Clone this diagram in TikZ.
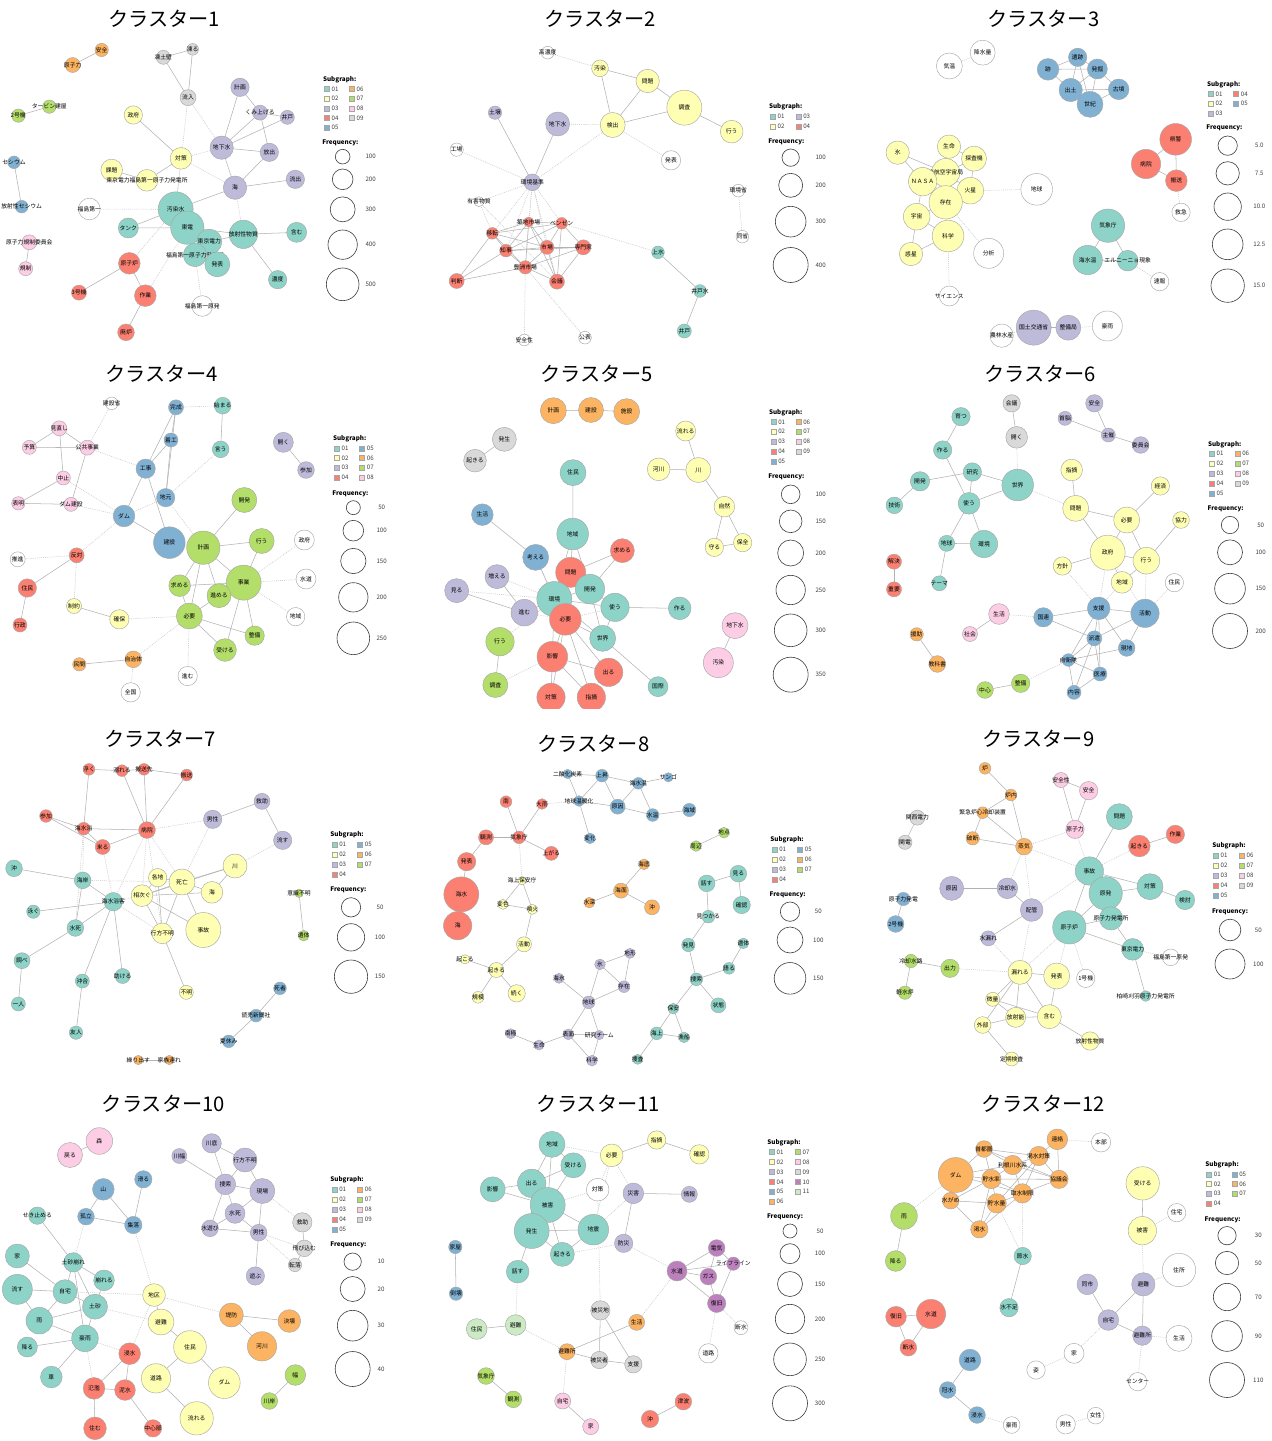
\documentclass[tikz,border=0pt]{standalone}
\usepackage{fontspec}
\setmainfont{Noto Sans CJK JP}
\usetikzlibrary{positioning}
\pgfdeclarelayer{bg}
\pgfsetlayers{bg,main}
\definecolor{c00}{HTML}{FFFFFF}
\definecolor{c01}{HTML}{8DD3C7}
\definecolor{c02}{HTML}{FFFFB3}
\definecolor{c03}{HTML}{BEBADA}
\definecolor{c04}{HTML}{FB8072}
\definecolor{c05}{HTML}{80B1D3}
\definecolor{c06}{HTML}{FDB462}
\definecolor{c07}{HTML}{B3DE69}
\definecolor{c08}{HTML}{FCCDE5}
\definecolor{c09}{HTML}{D9D9D9}
\definecolor{c10}{HTML}{BC80BD}
\definecolor{c11}{HTML}{CCEBC5}

\begin{document}
\begin{tikzpicture}[
    x=0.0066667cm, y=-0.0066667cm,
    wd/.style={circle, draw=gray!70, line width=0.25pt, inner sep=0pt, minimum size={#1*0.18972pt}, font=\fontsize{3.3}{3.6}\selectfont},
    edge/.style={draw=gray!60, line width=0.3pt},
    weak/.style={draw=gray!45, line width=0.3pt, dash pattern=on 0.5pt off 0.6pt},
    ttl/.style={font=\fontsize{11.5}{13}\selectfont},
    sw/.style={rectangle, draw=gray!70, line width=0.25pt, minimum size=2.8pt, inner sep=0pt},
    lt/.style={font=\fontsize{3.5}{4}\selectfont, inner sep=0.3pt, text=black!75},
    lh/.style={font=\bfseries\fontsize{3.6}{4}\selectfont, anchor=west, inner sep=0pt},
    fc/.style={wd=#1, fill=white, draw=black!75, line width=0.35pt}
  ]
  \begin{pgfonlayer}{bg}
    \fill[white] (0,0) rectangle (3813,4323);
  \end{pgfonlayer}
  \useasboundingbox (0,0) rectangle (3813,4323);

  % ---- Cluster 1
  \begin{scope}
    \node[ttl] (A-t) at (492,55) {クラスター1};
    \foreach \w/\px/\py/\dd/\cc in {安全/305/150/40/06,
      原子力/218/195/45/06,
      凍土壁/490/172/42/09,
      凍る/578/148/35/09,
      流入/564/293/48/09,
      計画/720/262/55/03,
      くみ上げる/780/338/45/03,
      井戸/862/352/42/03,
      タービン建屋/148/320/40/07,
      2号機/55/347/40/07,
      政府/400/345/55/02,
      地下水/665/443/70/03,
      放出/808/457/55/03,
      対策/543/475/65/02,
      セシウム/42/487/38/05,
      課題/335/510/65/02,
      東京電力福島第一原子力発電所/441/541/65/02,
      海/705/563/70/03,
      流出/886/538/55/03,
      放射性セシウム/65/620/38/05,
      福島第一/268/627/65/00,
      汚染水/527/628/105/01,
      東電/562/683/100/01,
      タンク/385/684/60/01,
      放射性物質/730/703/85/01,
      含む/890/697/60/01,
      東京電力/628/725/75/01,
      原子力規制委員会/88/727/45/08,
      福島第一原子力発電所/585/765/70/01,
      発表/652/793/75/01,
      原子炉/388/790/65/04,
      規制/77/806/42/08,
      濃度/833/839/55/01,
      3号機/237/878/45/04,
      作業/436/887/65/04,
      福島第一原発/607/918/62/00,
      廃炉/378/997/50/04}
      \node[wd=\dd, fill=c\cc] (A\w) at (\px,\py) {\makebox[0pt]{\w}};
    \begin{pgfonlayer}{bg}
      \foreach \na/\nb in {安全/原子力,凍土壁/凍る,凍土壁/流入,凍る/流入,計画/地下水,計画/くみ上げる,
        くみ上げる/地下水,くみ上げる/放出,井戸/地下水,井戸/くみ上げる,地下水/放出,地下水/海,放出/海,海/流出,
        タービン建屋/2号機,政府/対策,対策/東京電力福島第一原子力発電所,課題/東京電力福島第一原子力発電所,
        セシウム/放射性セシウム,原子力規制委員会/規制,汚染水/東電,汚染水/タンク,東電/タンク,東電/放射性物質,
        汚染水/海,東電/東京電力,東京電力/福島第一原子力発電所,福島第一原子力発電所/発表,東京電力/発表,
        放射性物質/含む,放射性物質/濃度,東京電力/放射性物質,原子炉/3号機,原子炉/作業,作業/廃炉}
        \draw[edge] (A\na.center) -- (A\nb.center);
      \foreach \na/\nb in {流入/地下水,対策/地下水,対策/汚染水,福島第一/汚染水,放射性物質/海,原子炉/汚染水,
        作業/東電,福島第一原発/福島第一原子力発電所,流入/汚染水,対策/海}
        \draw[weak] (A\na.center) -- (A\nb.center);
    \end{pgfonlayer}
    % legend
    \node[lh] (A-sg) at (968,238) {Subgraph:};
    \foreach \k/\px/\py in {01/980/267,02/980/296,03/980/325,04/980/354,05/980/383,06/1055/267,07/1055/296,08/1055/325,09/1055/354}{
      \node[sw, fill=c\k] (A-s\k) at (\px,\py) {};
      \node[lt, right=0.8pt of A-s\k] (A-k\k) {\k};}
    \node[lh] (A-fq) at (966,430) {Frequency:};
    \foreach \v/\py/\dd [count=\i] in {100/470/44,200/538/62,300/628/75,400/734/88,500/853/98}{
      \node[fc=\dd] (A-f\i) at (1028,\py) {};
      \node[lt] (A-v\i) at (1112,\py) {\v};}
  \end{scope}

  % ---- Cluster 2
  \begin{scope}[shift={(1260,0)}]
    \node[ttl] (B-t) at (540,55) {クラスター2};
    \foreach \w/\px/\py/\dd/\cc in {高濃度/383/158/38/00,
      汚染/540/205/50/02,
      問題/683/243/70/02,
      調査/793/323/105/02,
      土壌/225/338/40/03,
      地下水/413/372/72/03,
      検出/578/375/75/02,
      行う/935/395/68/02,
      工場/110/449/40/00,
      発表/753/481/58/00,
      環境基準/337/547/50/03,
      環境省/955/572/38/00,
      有害物質/177/605/30/00,
      築地市場/326/666/30/04,
      ベンゼン/425/670/35/04,
      移転/217/700/35/04,
      市場/381/742/42/04,
      専門家/490/742/45/04,
      知事/258/752/38/04,
      上水/714/757/38/01,
      豊洲市場/316/802/40/04,
      判断/110/843/45/04,
      会議/411/845/45/04,
      同省/967/710/38/00,
      井戸水/840/873/38/01,
      井戸/793/993/42/01,
      安全性/313/1020/35/00,
      公表/495/1013/38/00}
      \node[wd=\dd, fill=c\cc] (B\w) at (\px,\py) {\makebox[0pt]{\w}};
    \begin{pgfonlayer}{bg}
      \foreach \na/\nb in {汚染/問題,汚染/検出,問題/検出,問題/調査,検出/調査,調査/行う,土壌/環境基準,地下水/環境基準,
        移転/築地市場,移転/ベンゼン,移転/知事,移転/判断,移転/豊洲市場,移転/市場,築地市場/ベンゼン,築地市場/市場,
        築地市場/知事,築地市場/豊洲市場,築地市場/会議,ベンゼン/市場,ベンゼン/専門家,ベンゼン/会議,ベンゼン/知事,
        市場/知事,市場/専門家,市場/豊洲市場,市場/会議,知事/専門家,知事/豊洲市場,知事/判断,豊洲市場/判断,
        豊洲市場/会議,豊洲市場/専門家,会議/専門家,上水/井戸水,井戸水/井戸}
        \draw[edge] (B\na.center) -- (B\nb.center);
      \foreach \na/\nb in {高濃度/汚染,地下水/検出,検出/発表,検出/環境基準,工場/環境基準,環境基準/有害物質,
        環境基準/築地市場,環境基準/ベンゼン,環境基準/移転,環境基準/市場,環境基準/知事,環境基準/豊洲市場,
        環境基準/会議,ベンゼン/上水,環境省/同省,豊洲市場/安全性,豊洲市場/公表,有害物質/会議,有害物質/移転}
        \draw[weak] (B\na.center) -- (B\nb.center);
    \end{pgfonlayer}
    % legend
    \node[lh] (B-sg) at (1046,321) {Subgraph:};
    \foreach \k/\px/\py in {01/1058/350,02/1058/379,03/1135/350,04/1135/379}{
      \node[sw, fill=c\k] (B-s\k) at (\px,\py) {};
      \node[lt, right=0.8pt of B-s\k] (B-k\k) {\k};}
    \node[lh] (B-fq) at (1044,427) {Frequency:};
    \foreach \v/\py/\dd [count=\i] in {100/473/52,200/556/72,300/665/92,400/795/105}{
      \node[fc=\dd] (B-f\i) at (1112,\py) {};
      \node[lt] (B-v\i) at (1202,\py) {\v};}
  \end{scope}

  % ---- Cluster 3
  \begin{scope}[shift={(2550,0)}]
    \node[ttl] (C-t) at (580,55) {クラスター3};
    \foreach \w/\px/\py/\dd/\cc in {降水量/398/158/75/00,
      気温/298/198/78/00,
      遺跡/683/172/55/05,
      跡/594/208/65/05,
      発掘/742/207/60/05,
      出土/662/270/70/05,
      古墳/806/268/62/05,
      世紀/720/313/78/05,
      県警/977/418/95/04,
      病院/888/492/88/04,
      搬送/979/542/65/04,
      救急/993/637/55/00,
      氷/143/458/70/02,
      生命/297/440/70/02,
      探査機/372/476/75/02,
      米航空宇宙局/287/518/85/02,
      ＮＡＳＡ/218/545/85/02,
      火星/361/572/80/02,
      存在/287/607/100/02,
      地球/560/568/95/00,
      宇宙/200/650/80/02,
      科学/294/708/95/02,
      分析/416/760/90/00,
      惑星/183/762/70/02,
      気象庁/774/677/100/01,
      海水温/713/780/88/01,
      エルニーニョ現象/833/782/62/01,
      速報/929/845/55/00,
      サイエンス/298/888/60/00,
      国土交通省/551/983/105/03,
      整備局/655/983/75/03,
      豪雨/772/978/90/00,
      農林水産/455/1007/70/00}
      \node[wd=\dd, fill=c\cc] (C\w) at (\px,\py) {\makebox[0pt]{\w}};
    \begin{pgfonlayer}{bg}
      \foreach \na/\nb in {跡/遺跡,跡/発掘,跡/出土,遺跡/発掘,遺跡/出土,遺跡/世紀,発掘/古墳,発掘/出土,発掘/世紀,
        出土/世紀,出土/古墳,世紀/古墳,県警/病院,県警/搬送,病院/搬送,氷/ＮＡＳＡ,氷/米航空宇宙局,生命/米航空宇宙局,
        生命/探査機,探査機/米航空宇宙局,探査機/火星,米航空宇宙局/ＮＡＳＡ,米航空宇宙局/存在,米航空宇宙局/火星,
        ＮＡＳＡ/存在,ＮＡＳＡ/宇宙,火星/存在,存在/宇宙,存在/科学,宇宙/科学,宇宙/惑星,科学/惑星,
        国土交通省/整備局,気象庁/海水温,気象庁/エルニーニョ現象,海水温/エルニーニョ現象}
        \draw[edge] (C\na.center) -- (C\nb.center);
      \foreach \na/\nb in {降水量/気温,搬送/救急,火星/地球,存在/分析,科学/サイエンス,エルニーニョ現象/速報,
        整備局/豪雨,国土交通省/農林水産}
        \draw[weak] (C\na.center) -- (C\nb.center);
    \end{pgfonlayer}
    % legend
    \node[lh] (C-sg) at (1070,255) {Subgraph:};
    \foreach \k/\px/\py in {01/1082/282,02/1082/311,03/1082/340,04/1158/282,05/1158/311}{
      \node[sw, fill=c\k] (C-s\k) at (\px,\py) {};
      \node[lt, right=0.8pt of C-s\k] (C-k\k) {\k};}
    \node[lh] (C-fq) at (1068,385) {Frequency:};
    \foreach \v/\py/\dd [count=\i] in {5.0/437/58,7.5/520/70,10.0/620/82,12.5/733/92,15.0/857/100}{
      \node[fc=\dd] (C-f\i) at (1133,\py) {};
      \node[lt] (C-v\i) at (1228,\py) {\v};}
  \end{scope}

  % ---- Cluster 4
  \begin{scope}[shift={(0,1080)}]
    \node[ttl] (D-t) at (485,40) {クラスター4};
    \foreach \w/\px/\py/\dd/\cc in {建設省/335/130/38/00,
      完成/528/142/45/05,
      始まる/668/137/50/01,
      見直し/178/205/45/08,
      着工/513/240/42/05,
      言う/662/268/50/01,
      予算/88/262/42/08,
      公共事業/262/263/45/08,
      開く/850/247/60/03,
      参加/918/330/50/03,
      工事/437/326/58/05,
      中止/190/354/42/08,
      地元/497/413/55/05,
      開発/733/420/75/07,
      表明/55/430/40/08,
      ダム建設/213/433/42/08,
      ダム/372/468/65/05,
      建設/508/548/95/05,
      計画/610/563/100/07,
      行う/785/543/75/07,
      政府/913/540/60/00,
      推進/53/598/45/00,
      反対/230/586/45/04,
      住民/82/684/55/04,
      事業/731/668/105/07,
      水道/918/657/60/00,
      求める/539/677/65/07,
      進める/657/707/72/07,
      制約/222/738/45/02,
      確保/358/778/58/02,
      必要/568/768/78/07,
      地域/887/770/55/00,
      行政/60/795/42/04,
      整備/764/827/58/07,
      受ける/675/870/68/07,
      民間/238/913/40/06,
      自治体/400/898/50/06,
      進む/563/948/58/00,
      全国/392/997/58/00}
      \node[wd=\dd, fill=c\cc] (D\w) at (\px,\py) {\makebox[0pt]{\w}};
    \begin{pgfonlayer}{bg}
      \foreach \na/\nb in {始まる/言う,完成/着工,完成/工事,完成/地元,着工/工事,着工/地元,見直し/予算,見直し/公共事業,
        見直し/中止,予算/公共事業,公共事業/ダム建設,中止/表明,表明/ダム建設,開く/参加,工事/ダム,工事/建設,ダム/建設,
        開発/計画,計画/行う,計画/事業,計画/求める,計画/進める,計画/必要,行う/事業,事業/求める,事業/進める,事業/整備,
        事業/受ける,必要/求める,必要/進める,必要/受ける,必要/整備,反対/住民,住民/行政,制約/確保,自治体/民間}
        \draw[edge] (D\na.center) -- (D\nb.center);
      \foreach \na/\nb in {建設省/公共事業,完成/始まる,言う/地元,公共事業/工事,中止/ダム,ダム建設/ダム,ダム/地元,
        建設/計画,地元/計画,政府/事業,水道/事業,地域/事業,反対/推進,反対/制約,ダム/反対,確保/必要,必要/自治体,
        自治体/全国,必要/進む}
        \draw[weak] (D\na.center) -- (D\nb.center);
    \end{pgfonlayer}
    % legend
    \node[lh] (D-sg) at (998,236) {Subgraph:};
    \foreach \k/\px/\py in {01/1010/265,02/1010/294,03/1010/323,04/1010/353,05/1086/265,06/1086/294,07/1086/323,08/1086/353}{
      \node[sw, fill=c\k] (D-s\k) at (\px,\py) {};
      \node[lt, right=0.8pt of D-s\k] (D-k\k) {\k};}
    \node[lh] (D-fq) at (996,402) {Frequency:};
    \foreach \v/\py/\dd [count=\i] in {50/443/42,100/512/62,150/603/76,200/712/88,250/835/98}{
      \node[fc=\dd] (D-f\i) at (1060,\py) {};
      \node[lt] (D-v\i) at (1145,\py) {\v};}
  \end{scope}

  % ---- Cluster 5 (bottom row cut off as in the source)
  \begin{scope}[shift={(1260,1080)}]
    \clip (0,0) rectangle (1290,1045);
    \node[ttl] (E-t) at (530,40) {クラスター5};
    \foreach \w/\px/\py/\dd/\cc in {計画/400/152/78/06,
      建設/513/150/75/06,
      施設/620/155/78/06,
      発生/253/238/72/09,
      起きる/165/302/68/09,
      流れる/797/213/60/02,
      河川/716/328/68/02,
      川/835/330/75/02,
      住民/459/338/78/01,
      自然/913/440/62/02,
      生活/187/464/65/05,
      地域/458/522/95/01,
      守る/883/562/55/02,
      保全/968/548/55/02,
      求める/607/572/72/04,
      考える/347/592/78/05,
      増える/231/650/72/03,
      問題/452/637/90/04,
      開発/510/687/88/01,
      見る/110/692/72/03,
      環境/403/717/105/01,
      使う/585/742/85/01,
      作る/779/745/68/01,
      進む/313/758/80/03,
      必要/436/778/95/04,
      地下水/945/797/78/08,
      行う/240/845/85/07,
      世界/548/835/78/01,
      影響/397/890/92/04,
      汚染/895/908/90/08,
      出る/566/937/85/04,
      調査/226/975/75/07,
      国際/714/980/60/01,
      対策/393/1012/85/04,
      指摘/514/1012/85/04}
      \node[wd=\dd, fill=c\cc] (E\w) at (\px,\py) {\makebox[0pt]{\w}};
    \begin{pgfonlayer}{bg}
      \foreach \na/\nb in {計画/建設,建設/施設,発生/起きる,流れる/川,河川/川,川/自然,自然/守る,自然/保全,守る/保全,
        住民/地域,生活/考える,地域/問題,地域/開発,地域/環境,求める/問題,求める/開発,増える/進む,見る/進む,問題/開発,
        問題/環境,問題/必要,開発/環境,開発/使う,開発/世界,環境/必要,環境/使う,環境/世界,環境/影響,使う/作る,使う/世界,
        進む/環境,必要/影響,必要/出る,必要/指摘,必要/対策,必要/世界,行う/調査,影響/出る,影響/対策,影響/指摘,
        世界/国際,地下水/汚染,考える/環境}
        \draw[edge] (E\na.center) -- (E\nb.center);
      \foreach \na/\nb in {考える/必要,増える/環境,進む/必要,行う/環境,調査/影響,見る/環境,使う/必要}
        \draw[weak] (E\na.center) -- (E\nb.center);
    \end{pgfonlayer}
    % legend
    \node[lh] (E-sg) at (1046,158) {Subgraph:};
    \foreach \k/\px/\py in {01/1060/186,02/1060/215,03/1060/245,04/1060/275,05/1060/305,06/1135/186,07/1135/215,08/1135/245,09/1135/275}{
      \node[sw, fill=c\k] (E-s\k) at (\px,\py) {};
      \node[lt, right=0.8pt of E-s\k] (E-k\k) {\k};}
    \node[lh] (E-fq) at (1044,352) {Frequency:};
    \foreach \v/\py/\dd [count=\i] in {100/403/56,150/484/68,200/579/78,250/690/88,300/811/98,350/944/105}{
      \node[fc=\dd] (E-f\i) at (1112,\py) {};
      \node[lt] (E-v\i) at (1202,\py) {\v};}
  \end{scope}

  % ---- Cluster 6
  \begin{scope}[shift={(2550,1080)}]
    \node[ttl] (F-t) at (570,40) {クラスター6};
    \foreach \w/\px/\py/\dd/\cc in {会議/485/130/52/09,
      安全/733/130/52/03,
      首脳/645/175/42/03,
      開く/500/232/65/09,
      主催/775/225/42/03,
      委員会/872/255/50/03,
      育つ/333/170/55/01,
      作る/278/270/55/01,
      研究/367/336/55/01,
      開発/210/364/58/01,
      世界/503/375/95/01,
      指摘/665/330/65/02,
      経済/931/378/55/02,
      技術/133/436/50/01,
      使う/357/430/65/01,
      問題/677/445/78/02,
      必要/830/480/78/02,
      協力/993/480/50/02,
      地球/290/550/48/01,
      環境/402/552/82/01,
      政府/773/578/105/02,
      行う/889/602/80/02,
      方針/637/618/55/02,
      解決/132/605/45/04,
      地域/816/667/65/02,
      住民/973/668/55/00,
      テーマ/268/670/45/01,
      重要/132/688/45/04,
      支援/746/745/68/05,
      活動/885/760/85/05,
      生活/447/762/62/08,
      国連/580/772/58/05,
      社会/360/822/45/08,
      援助/200/823/40/06,
      派遣/733/835/45/05,
      現地/830/864/50/05,
      自衛隊/655/900/38/05,
      教科書/262/912/50/06,
      医療/750/942/42/05,
      整備/512/970/55/07,
      中心/405/990/50/07,
      内容/672/997/42/05}
      \node[wd=\dd, fill=c\cc] (F\w) at (\px,\py) {\makebox[0pt]{\w}};
    \begin{pgfonlayer}{bg}
      \foreach \na/\nb in {会議/開く,首脳/主催,安全/主催,主催/委員会,育つ/作る,作る/使う,研究/開発,研究/使う,研究/世界,
        開発/技術,使う/世界,使う/地球,使う/環境,地球/環境,地球/テーマ,指摘/問題,問題/必要,問題/政府,必要/経済,
        必要/政府,必要/行う,協力/行う,政府/行う,政府/方針,政府/地域,行う/地域,解決/重要,支援/国連,支援/活動,支援/派遣,
        支援/現地,支援/自衛隊,支援/医療,国連/派遣,活動/派遣,活動/現地,派遣/自衛隊,派遣/医療,派遣/内容,自衛隊/現地,
        自衛隊/医療,自衛隊/内容,医療/内容,生活/社会,援助/教科書,中心/整備}
        \draw[edge] (F\na.center) -- (F\nb.center);
      \foreach \na/\nb in {開く/世界,世界/問題,活動/住民,政府/支援,方針/支援,地域/支援,行う/活動,政府/活動,生活/国連,整備/自衛隊}
        \draw[weak] (F\na.center) -- (F\nb.center);
    \end{pgfonlayer}
    % legend
    \node[lh] (F-sg) at (1073,253) {Subgraph:};
    \foreach \k/\px/\py in {01/1085/281,02/1085/311,03/1085/341,04/1085/370,05/1085/400,06/1162/281,07/1162/311,08/1162/341,09/1162/370}{
      \node[sw, fill=c\k] (F-s\k) at (\px,\py) {};
      \node[lt, right=0.8pt of F-s\k] (F-k\k) {\k};}
    \node[lh] (F-fq) at (1072,447) {Frequency:};
    \foreach \v/\py/\dd [count=\i] in {50/495/52,100/577/75,150/686/92,200/813/105}{
      \node[fc=\dd] (F-f\i) at (1140,\py) {};
      \node[lt] (F-v\i) at (1232,\py) {\v};}
  \end{scope}

  % ---- Cluster 7
  \begin{scope}[shift={(0,2160)}]
    \node[ttl] (G-t) at (480,55) {クラスター7};
    \foreach \w/\px/\py/\dd/\cc in {浮く/267/148/35/04,
      溺れる/366/152/35/04,
      搬送先/432/148/35/04,
      搬送/560/165/35/04,
      救助/786/244/48/03,
      参加/138/288/38/04,
      男性/638/298/55/03,
      海水浴/251/326/38/04,
      病院/441/330/50/04,
      流す/848/361/55/03,
      来る/308/381/45/04,
      沖/42/445/50/01,
      川/705/438/72/02,
      海岸/248/481/50/01,
      各地/473/473/55/02,
      死亡/546/486/78/02,
      海/636/517/65/02,
      相次ぐ/426/527/65/02,
      海水浴客/340/545/55/01,
      意識不明/897/520/25/07,
      泳ぐ/100/575/40/01,
      水死/226/624/50/01,
      行方不明/487/640/62/02,
      事故/610/630/105/02,
      遺体/911/647/32/07,
      調べ/66/722/48/01,
      沖合/247/783/42/01,
      助ける/368/768/45/01,
      不明/559/817/42/02,
      一人/55/852/42/01,
      死者/840/805/38/05,
      読売新聞社/768/887/38/05,
      友人/228/938/40/01,
      夏休み/686/964/38/05,
      繰り出す/415/1020/28/06,
      家族連れ/508/1020/28/06}
      \node[wd=\dd, fill=c\cc] (G\w) at (\px,\py) {\makebox[0pt]{\w}};
    \begin{pgfonlayer}{bg}
      \foreach \na/\nb in {浮く/溺れる,溺れる/搬送先,搬送先/搬送,浮く/海水浴,溺れる/病院,搬送先/病院,搬送/病院,参加/海水浴,
        参加/来る,海水浴/病院,海水浴/来る,病院/来る,救助/男性,救助/流す,沖/海岸,海岸/海水浴客,海岸/水死,海水浴客/泳ぐ,
        海水浴客/水死,海水浴客/沖合,海水浴客/助ける,水死/調べ,調べ/一人,沖合/友人,各地/死亡,各地/相次ぐ,各地/行方不明,
        死亡/川,死亡/海,死亡/相次ぐ,死亡/行方不明,死亡/事故,海/川,海/相次ぐ,相次ぐ/行方不明,相次ぐ/事故,行方不明/不明,
        川/相次ぐ,意識不明/遺体,死者/読売新聞社,読売新聞社/夏休み,繰り出す/家族連れ}
        \draw[edge] (G\na.center) -- (G\nb.center);
      \foreach \na/\nb in {病院/男性,病院/死亡,病院/相次ぐ,病院/海水浴客,海水浴/海岸,来る/海水浴客,流す/川,男性/死亡,
        海岸/死亡,海水浴客/相次ぐ,海水浴客/行方不明,海水浴/水死,病院/行方不明}
        \draw[weak] (G\na.center) -- (G\nb.center);
    \end{pgfonlayer}
    % legend
    \node[lh] (G-sg) at (990,343) {Subgraph:};
    \foreach \k/\px/\py in {01/1003/373,02/1003/403,03/1003/433,04/1003/463,05/1080/373,06/1080/403,07/1080/433}{
      \node[sw, fill=c\k] (G-s\k) at (\px,\py) {};
      \node[lt, right=0.8pt of G-s\k] (G-k\k) {\k};}
    \node[lh] (G-fq) at (990,510) {Frequency:};
    \foreach \v/\py/\dd [count=\i] in {50/562/58,100/652/82,150/770/100}{
      \node[fc=\dd] (G-f\i) at (1053,\py) {};
      \node[lt] (G-v\i) at (1140,\py) {\v};}
  \end{scope}

  % ---- Cluster 8
  \begin{scope}[shift={(1260,2160)}]
    \node[ttl] (H-t) at (520,70) {クラスター8};
    \foreach \w/\px/\py/\dd/\cc in {二酸化炭素/443/162/28/05,
      上昇/546/167/38/05,
      海水温/655/190/35/05,
      サンゴ/745/172/28/05,
      地球温暖化/477/243/32/05,
      原因/593/260/45/05,
      水温/698/285/38/05,
      海域/808/270/40/05,
      変化/510/355/32/05,
      南/258/245/35/04,
      大雨/366/252/32/04,
      観測/198/352/45/04,
      気象庁/297/352/38/04,
      上がる/394/400/42/04,
      地点/912/338/32/07,
      周辺/828/378/32/07,
      発表/140/425/55/04,
      海上保安庁/306/482/25/02,
      海底/672/433/32/06,
      海面/603/512/45/06,
      変色/249/553/30/02,
      噴火/337/568/30/02,
      水深/508/548/32/06,
      沖/696/562/45/06,
      海水/124/523/105/04,
      海/113/617/85/04,
      見る/955/461/50/01,
      話す/860/490/50/01,
      確認/965/555/52/01,
      見つかる/865/590/38/01,
      活動/312/673/45/02,
      発見/805/675/40/01,
      遺体/970/670/32/01,
      起こる/135/718/28/02,
      起きる/229/750/45/02,
      氷/540/733/32/03,
      地形/630/700/30/03,
      海氷/417/775/30/03,
      存在/612/800/35/03,
      捜索/829/778/38/01,
      語る/927/745/35/01,
      続く/290/820/52/02,
      地球/506/847/38/03,
      状態/895/856/45/01,
      規模/174/832/35/02,
      保安/760/866/32/01,
      南極/272/941/30/03,
      生命/357/975/30/03,
      表面/445/943/32/03,
      研究チーム/538/945/28/03,
      海上/710/940/38/01,
      漁船/792/952/32/01,
      科学/516/1022/32/03,
      捜査/653/1018/30/01}
      \node[wd=\dd, fill=c\cc] (H\w) at (\px,\py) {\makebox[0pt]{\w}};
    \begin{pgfonlayer}{bg}
      \foreach \na/\nb in {二酸化炭素/上昇,二酸化炭素/地球温暖化,上昇/地球温暖化,上昇/原因,上昇/海水温,海水温/サンゴ,
        海水温/原因,海水温/水温,地球温暖化/原因,地球温暖化/変化,原因/水温,水温/海域,南/気象庁,大雨/気象庁,観測/気象庁,
        気象庁/上がる,観測/発表,発表/海水,海水/海,地点/周辺,海上保安庁/変色,海上保安庁/噴火,変色/噴火,噴火/活動,
        活動/起きる,起こる/起きる,起きる/規模,起きる/続く,海底/海面,海面/水深,海面/沖,見る/話す,見る/確認,話す/見つかる,
        見つかる/発見,発見/捜索,捜索/語る,語る/遺体,捜索/状態,捜索/保安,保安/海上,保安/漁船,海上/漁船,海上/捜査,
        氷/地形,氷/存在,地形/存在,氷/地球,海氷/地球,存在/地球,地球/表面,地球/研究チーム,南極/生命,生命/表面,
        表面/研究チーム,表面/科学,研究チーム/科学}
        \draw[edge] (H\na.center) -- (H\nb.center);
      \foreach \na/\nb in {大雨/地球温暖化,気象庁/海上保安庁}
        \draw[weak] (H\na.center) -- (H\nb.center);
    \end{pgfonlayer}
    % legend
    \node[lh] (H-sg) at (1050,360) {Subgraph:};
    \foreach \k/\px/\py in {01/1063/388,02/1063/418,03/1063/448,04/1063/478,05/1140/388,06/1140/418,07/1140/448}{
      \node[sw, fill=c\k] (H-s\k) at (\px,\py) {};
      \node[lt, right=0.8pt of H-s\k] (H-k\k) {\k};}
    \node[lh] (H-fq) at (1048,525) {Frequency:};
    \foreach \v/\py/\dd [count=\i] in {50/575/58,100/660/78,150/775/95}{
      \node[fc=\dd] (H-f\i) at (1110,\py) {};
      \node[lt] (H-v\i) at (1195,\py) {\v};}
  \end{scope}

  % ---- Cluster 9
  \begin{scope}[shift={(2550,2160)}]
    \node[ttl] (I-t) at (565,55) {クラスター9};
    \foreach \w/\px/\py/\dd/\cc in {炉/405/145/35/06,
      安全性/633/180/45/08,
      安全/716/212/55/08,
      炉内/483/225/35/06,
      関西電力/202/293/45/09,
      緊急炉心冷却装置/398/278/35/06,
      問題/808/290/78/01,
      原子力/675/328/55/08,
      作業/976/343/55/04,
      破断/368/355/40/06,
      起きる/868/378/65/04,
      関電/165/367/42/09,
      蒸気/522/380/50/06,
      事故/718/453/85/01,
      原発/767/520/100/01,
      対策/900/500/78/01,
      原因/305/505/72/03,
      冷却水/472/505/62/03,
      検討/1005/540/58/01,
      原子力発電/160/537/40/05,
      配管/545/570/68/03,
      原子力発電所/783/595/70/01,
      原子炉/658/622/100/01,
      2号機/137/612/50/05,
      水漏れ/415/655/45/03,
      東京電力/848/688/65/01,
      福島第一原発/962/712/50/00,
      冷却水路/183/723/40/07,
      出力/300/745/55/07,
      漏れる/510/757/72/02,
      発表/620/768/78/02,
      1号機/707/775/55/00,
      軽水炉/165/818/40/07,
      微量/428/838/42/02,
      柏崎刈羽原子力発電所/887/828/32/01,
      放射能/497/892/60/02,
      含む/598/890/72/02,
      外部/398/915/50/02,
      放射性物質/720/963/55/02,
      定期検査/485/1017/42/02}
      \node[wd=\dd, fill=c\cc] (I\w) at (\px,\py) {\makebox[0pt]{\w}};
    \begin{pgfonlayer}{bg}
      \foreach \na/\nb in {炉/炉内,炉内/緊急炉心冷却装置,炉内/蒸気,緊急炉心冷却装置/破断,緊急炉心冷却装置/蒸気,破断/蒸気,
        安全性/安全,安全性/原子力,安全/原子力,関西電力/関電,問題/事故,起きる/作業,事故/原発,事故/原子炉,原発/対策,
        対策/検討,原発/原子炉,原発/原子力発電所,原子力発電所/原子炉,原子力発電所/東京電力,原子炉/東京電力,事故/対策,
        東京電力/柏崎刈羽原子力発電所,原因/冷却水,冷却水/配管,配管/水漏れ,原子力発電/2号機,冷却水路/出力,冷却水路/軽水炉,
        漏れる/発表,漏れる/微量,漏れる/放射能,漏れる/含む,漏れる/外部,発表/含む,微量/放射能,微量/含む,外部/放射能,
        放射能/含む,含む/放射性物質,外部/定期検査}
        \draw[edge] (I\na.center) -- (I\nb.center);
      \foreach \na/\nb in {蒸気/原子力,蒸気/事故,蒸気/配管,蒸気/冷却水,原子力/事故,起きる/事故,東京電力/福島第一原発,
        配管/事故,配管/漏れる,水漏れ/漏れる,出力/漏れる,原子炉/漏れる,原子炉/発表,原子炉/1号機}
        \draw[weak] (I\na.center) -- (I\nb.center);
    \end{pgfonlayer}
    % legend
    \node[lh] (I-sg) at (1086,378) {Subgraph:};
    \foreach \k/\px/\py in {01/1097/407,02/1097/437,03/1097/467,04/1097/497,05/1097/527,06/1175/407,07/1175/437,08/1175/467,09/1175/497}{
      \node[sw, fill=c\k] (I-s\k) at (\px,\py) {};
      \node[lt, right=0.8pt of I-s\k] (I-k\k) {\k};}
    \node[lh] (I-fq) at (1085,575) {Frequency:};
    \foreach \v/\py/\dd [count=\i] in {50/630/65,100/732/90}{
      \node[fc=\dd] (I-f\i) at (1140,\py) {};
      \node[lt] (I-v\i) at (1225,\py) {\v};}
  \end{scope}

  % ---- Cluster 10
  \begin{scope}[shift={(0,3255)}]
    \node[ttl] (J-t) at (490,55) {クラスター10};
    \foreach \w/\px/\py/\dd/\cc in {森/298/168/80/08,
      戻る/210/210/75/08,
      川底/635/175/58/03,
      川幅/538/213/45/03,
      行方不明/735/225/72/03,
      山/310/313/65/05,
      滑る/430/283/52/05,
      捜索/676/298/62/03,
      現場/787/318/75/03,
      水死/705/385/60/03,
      せき止める/112/392/52/01,
      孤立/258/395/50/05,
      集落/400/420/52/05,
      水遊び/630/430/50/03,
      男性/776/443/50/03,
      救助/907/412/58/09,
      飛び込む/913/490/50/09,
      家/52/513/72/01,
      土砂崩れ/220/532/58/01,
      転落/885/540/40/09,
      遊ぶ/766/573/55/03,
      流す/52/613/90/01,
      崩れる/312/586/62/01,
      自宅/195/620/72/01,
      地区/462/630/68/02,
      土砂/285/665/75/01,
      堤防/694/690/72/06,
      決壊/868/708/68/06,
      雨/118/707/80/01,
      避難/483/711/78/02,
      豪雨/255/760/80/01,
      降る/82/786/60/01,
      住民/570/786/98/02,
      河川/786/784/88/06,
      浸水/389/806/65/04,
      車/154/876/65/01,
      道路/468/880/88/02,
      ダム/673/893/95/02,
      幅/886/870/62/07,
      氾濫/282/910/65/04,
      泥水/375/915/62/04,
      川岸/808/948/50/07,
      流れる/590/1000/100/02,
      住む/285/1030/68/04,
      中心部/459/1030/52/04}
      \node[wd=\dd, fill=c\cc] (J\w) at (\px,\py) {\makebox[0pt]{\w}};
    \begin{pgfonlayer}{bg}
      \foreach \na/\nb in {森/戻る,川底/捜索,川幅/捜索,川底/行方不明,行方不明/捜索,行方不明/現場,捜索/現場,捜索/水死,
        捜索/水遊び,現場/水死,現場/男性,水死/水遊び,水死/男性,水遊び/男性,男性/遊ぶ,救助/飛び込む,飛び込む/転落,
        山/孤立,山/集落,滑る/集落,孤立/集落,せき止める/土砂崩れ,家/自宅,流す/自宅,流す/雨,土砂崩れ/自宅,土砂崩れ/土砂,
        土砂崩れ/崩れる,土砂崩れ/豪雨,崩れる/土砂,自宅/土砂,自宅/雨,雨/土砂,雨/豪雨,降る/豪雨,土砂/豪雨,豪雨/車,
        地区/避難,避難/住民,住民/道路,住民/ダム,道路/流れる,堤防/決壊,堤防/河川,幅/川岸,浸水/氾濫,浸水/泥水,
        氾濫/泥水,氾濫/住む,泥水/中心部}
        \draw[edge] (J\na.center) -- (J\nb.center);
      \foreach \na/\nb in {現場/救助,男性/飛び込む,男性/転落,孤立/土砂崩れ,集落/地区,自宅/地区,土砂/避難,豪雨/浸水,
        豪雨/氾濫,地区/堤防,地区/浸水}
        \draw[weak] (J\na.center) -- (J\nb.center);
    \end{pgfonlayer}
    % legend
    \node[lh] (J-sg) at (990,285) {Subgraph:};
    \foreach \k/\px/\py in {01/1003/314,02/1003/344,03/1003/374,04/1003/404,05/1003/434,06/1080/314,07/1080/344,08/1080/374,09/1080/404}{
      \node[sw, fill=c\k] (J-s\k) at (\px,\py) {};
      \node[lt, right=0.8pt of J-s\k] (J-k\k) {\k};}
    \node[lh] (J-fq) at (990,480) {Frequency:};
    \foreach \v/\py/\dd [count=\i] in {10/530/52,20/612/75,30/722/92,40/852/105}{
      \node[fc=\dd] (J-f\i) at (1058,\py) {};
      \node[lt] (J-v\i) at (1143,\py) {\v};}
  \end{scope}

  % ---- Cluster 11
  \begin{scope}[shift={(1260,3255)}]
    \node[ttl] (K-t) at (535,55) {クラスター11};
    \foreach \w/\px/\py/\dd/\cc in {地域/396/178/78/01,
      指摘/710/165/55/02,
      必要/575/211/68/02,
      確認/838/208/58/02,
      受ける/460/241/75/01,
      出る/335/295/85/01,
      影響/218/313/75/01,
      対策/533/314/68/00,
      災害/640/325/62/03,
      情報/808/328/48/03,
      被害/383/360/105/01,
      発生/335/438/105/01,
      地震/520/434/92/01,
      防災/611/475/55/03,
      家屋/106/486/40/05,
      電気/890/489/50/10,
      起きる/427/508/72/01,
      ライフライン/940/536/40/10,
      水道/771/558/60/10,
      話す/293/560/68/01,
      ガス/865/575/50/10,
      倒壊/108/626/40/05,
      復旧/890/655/55/10,
      被災地/541/676/58/09,
      生活/650/712/48/06,
      住民/170/732/62/11,
      避難/287/720/62/11,
      断水/963/728/42/00,
      避難所/441/800/48/06,
      被災者/538/825/52/09,
      支援/640/838/52/09,
      道路/865/805/58/00,
      気象庁/198/873/50/07,
      観測/280/943/50/07,
      自宅/428/948/48/08,
      津波/790/950/50/04,
      沖/690/1002/52/04,
      家/512/1025/48/08}
      \node[wd=\dd, fill=c\cc] (K\w) at (\px,\py) {\makebox[0pt]{\w}};
    \begin{pgfonlayer}{bg}
      \foreach \na/\nb in {地域/受ける,地域/出る,地域/被害,指摘/必要,指摘/確認,受ける/出る,受ける/被害,影響/出る,
        影響/被害,出る/被害,出る/発生,被害/発生,被害/地震,被害/起きる,発生/地震,発生/起きる,発生/話す,地震/起きる,
        災害/情報,災害/防災,家屋/倒壊,電気/水道,電気/ガス,電気/ライフライン,水道/ライフライン,水道/ガス,水道/復旧,
        ガス/復旧,ライフライン/復旧,住民/避難,被災地/被災者,被災地/支援,被災者/支援,避難所/生活,避難所/被災者,
        気象庁/観測,自宅/家,津波/沖}
        \draw[edge] (K\na.center) -- (K\nb.center);
      \foreach \na/\nb in {地域/必要,必要/対策,必要/災害,必要/地震,対策/被害,対策/被災地,災害/地震,防災/起きる,
        防災/水道,復旧/断水,復旧/道路,話す/避難,避難/避難所,水道/生活,避難所/自宅}
        \draw[weak] (K\na.center) -- (K\nb.center);
    \end{pgfonlayer}
    % legend
    \node[lh] (K-sg) at (1041,173) {Subgraph:};
    \foreach \k/\px/\py in {01/1055/201,02/1055/231,03/1055/261,04/1055/291,05/1055/320,06/1055/350,07/1133/201,08/1133/231,09/1133/261,10/1133/291,11/1133/320}{
      \node[sw, fill=c\k] (K-s\k) at (\px,\py) {};
      \node[lt, right=0.8pt of K-s\k] (K-k\k) {\k};}
    \node[lh] (K-fq) at (1040,396) {Frequency:};
    \foreach \v/\py/\dd [count=\i] in {50/438/42,100/506/60,150/597/75,200/702/88,250/823/98,300/955/105}{
      \node[fc=\dd] (K-f\i) at (1110,\py) {};
      \node[lt] (K-v\i) at (1200,\py) {\v};}
  \end{scope}

  % ---- Cluster 12
  \begin{scope}[shift={(2550,3255)}]
    \node[ttl] (L-t) at (580,55) {クラスター12};
    \foreach \w/\px/\py/\dd/\cc in {連絡/622/163/62/06,
      本部/753/172/58/00,
      首都圏/402/192/50/06,
      渇水対策/566/213/58/06,
      利根川水系/488/240/58/06,
      ダム/317/270/105/06,
      貯水率/424/282/58/06,
      協議会/627/283/55/06,
      取水制限/517/325/58/06,
      水がめ/302/347/50/06,
      貯水量/440/355/58/06,
      受ける/878/295/100/02,
      住宅/980/383/55/00,
      雨/162/393/80/07,
      渇水/388/433/52/06,
      被害/877/437/85/02,
      節水/518/513/52/01,
      降る/137/528/62/07,
      住所/987/555/100/00,
      同市/712/598/62/03,
      避難/880/598/70/03,
      水不足/477/668/55/01,
      復旧/138/695/62/04,
      水道/243/687/88/04,
      自宅/775/705/62/03,
      避難所/877/752/58/03,
      生活/987/760/78/00,
      断水/175/788/50/04,
      家/672/805/60/00,
      道路/360/825/65/05,
      姿/558/855/55/00,
      センター/863/890/55/00,
      冠水/293/915/50/05,
      浸水/381/990/50/05,
      豪雨/485/1020/50/00,
      女性/737/992/50/00,
      男性/647/1018/58/00}
      \node[wd=\dd, fill=c\cc] (L\w) at (\px,\py) {\makebox[0pt]{\w}};
    \begin{pgfonlayer}{bg}
      \foreach \na/\nb in {連絡/渇水対策,連絡/協議会,首都圏/渇水対策,首都圏/利根川水系,首都圏/ダム,首都圏/貯水率,
        首都圏/協議会,渇水対策/利根川水系,渇水対策/協議会,渇水対策/取水制限,渇水対策/貯水量,利根川水系/ダム,
        利根川水系/貯水率,利根川水系/取水制限,利根川水系/協議会,ダム/貯水率,ダム/水がめ,ダム/取水制限,貯水率/取水制限,
        貯水率/貯水量,貯水率/水がめ,貯水率/協議会,協議会/取水制限,取水制限/貯水量,取水制限/渇水,水がめ/貯水量,
        水がめ/渇水,貯水量/渇水,貯水率/渇水,雨/降る,節水/水不足,受ける/被害,同市/自宅,避難/自宅,避難/避難所,
        自宅/避難所,復旧/水道,復旧/断水,水道/断水,道路/冠水,冠水/浸水}
        \draw[edge] (L\na.center) -- (L\nb.center);
      \foreach \na/\nb in {連絡/本部,ダム/雨,取水制限/節水,貯水量/節水,被害/住宅,被害/避難,避難/住所,避難所/生活,
        避難所/センター,自宅/家,家/姿,浸水/豪雨,女性/男性}
        \draw[weak] (L\na.center) -- (L\nb.center);
    \end{pgfonlayer}
    % legend
    \node[lh] (L-sg) at (1065,240) {Subgraph:};
    \foreach \k/\px/\py in {01/1077/268,02/1077/297,03/1077/326,04/1077/356,05/1153/268,06/1153/297,07/1153/326}{
      \node[sw, fill=c\k] (L-s\k) at (\px,\py) {};
      \node[lt, right=0.8pt of L-s\k] (L-k\k) {\k};}
    \node[lh] (L-fq) at (1063,403) {Frequency:};
    \foreach \v/\py/\dd [count=\i] in {30/452/55,50/534/70,70/636/82,90/753/92,110/885/105}{
      \node[fc=\dd] (L-f\i) at (1131,\py) {};
      \node[lt] (L-v\i) at (1225,\py) {\v};}
  \end{scope}
\end{tikzpicture}
\end{document}
